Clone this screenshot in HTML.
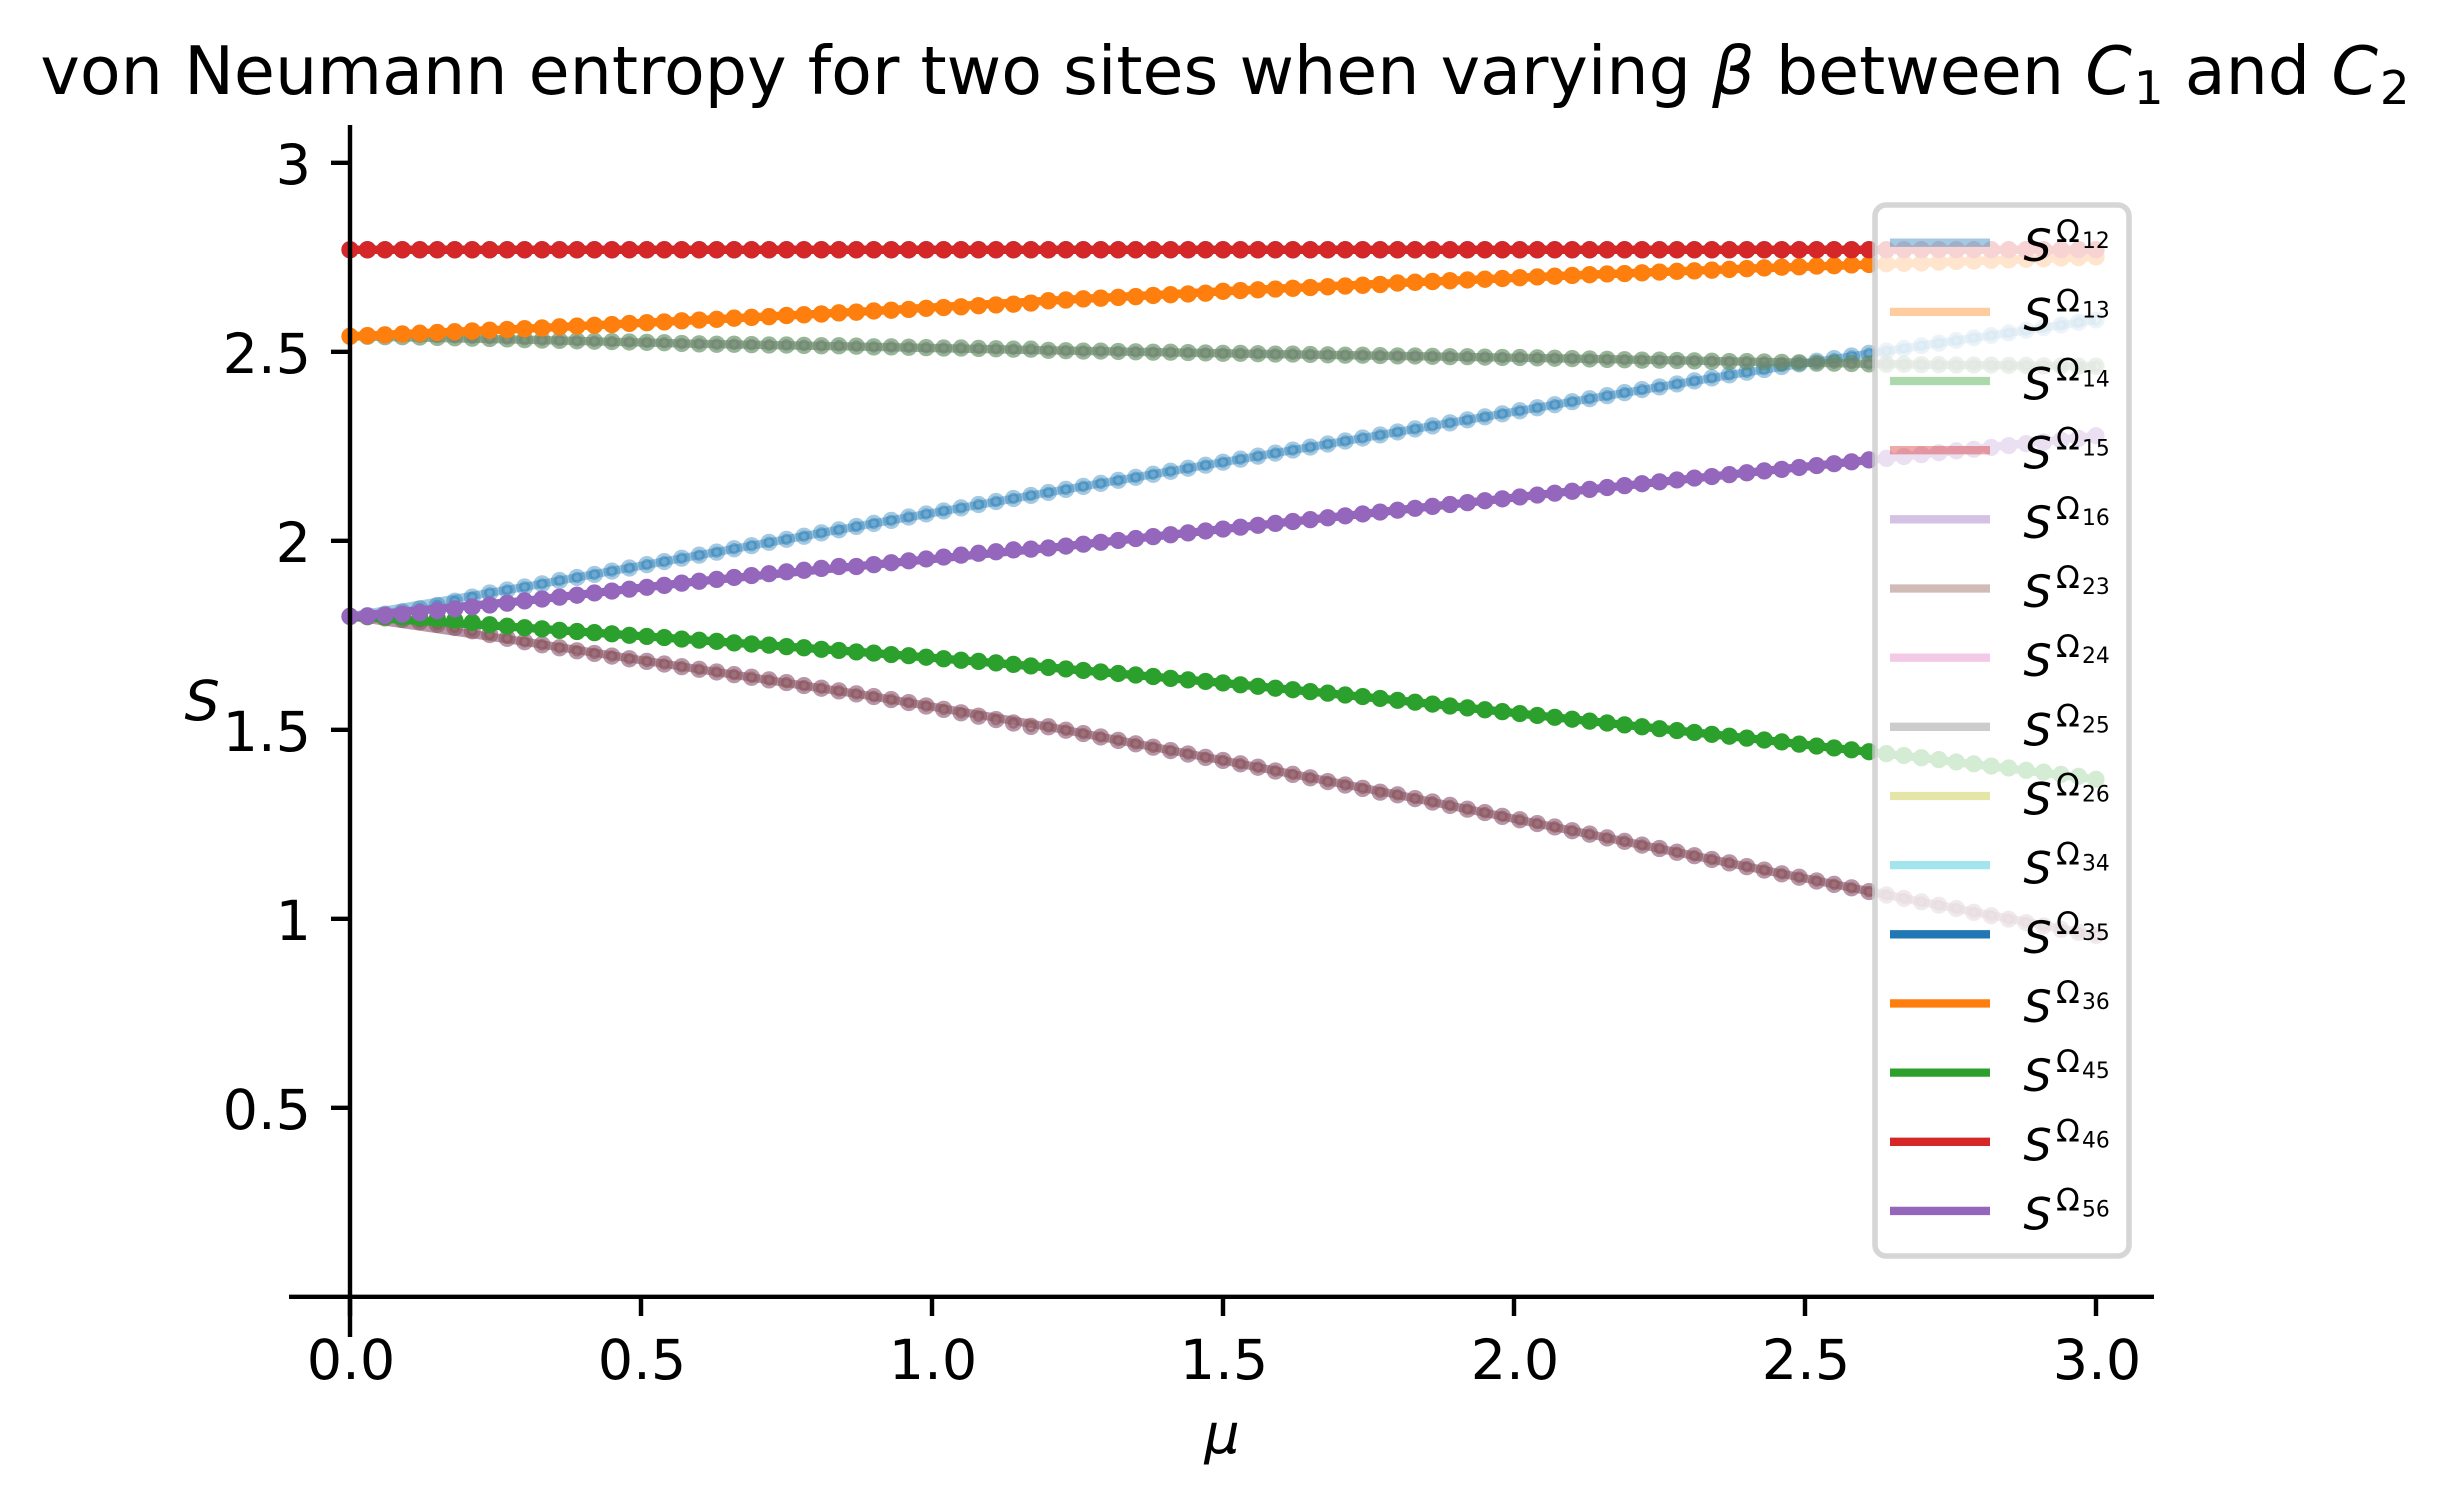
<!DOCTYPE html>
<html lang="en">
<head>
<meta charset="utf-8">
<title>von Neumann entropy chart</title>
<style>
html,body{margin:0;padding:0;background:#fff;}
svg{display:block;}
text{font-family:"DejaVu Sans","Liberation Sans",sans-serif;fill:#000;}
</style>
</head>
<body>
<svg id="chart" xmlns="http://www.w3.org/2000/svg" width="2444" height="1506" viewBox="0 0 2444 1506">
<rect x="0" y="0" width="2444" height="1506" fill="#fff"/>
<g id="marks"></g>
<g id="axes"></g>
<g id="legend"></g>
<text x="1225" y="94" text-anchor="middle" font-size="66.67">von Neumann entropy for two sites when varying <tspan font-style="italic">β</tspan> between <tspan font-style="italic">C</tspan><tspan font-size="46.7" dy="10" dx="2">1</tspan><tspan dy="-10"> and </tspan><tspan font-style="italic">C</tspan><tspan font-size="46.7" dy="10" dx="2">2</tspan></text>
<text x="1222" y="1453" text-anchor="middle" font-size="55.6" font-style="italic">μ</text>
<text x="184.5" y="720" font-size="55.6" font-style="italic">S</text>
</svg>
<script>
const muStep = 0.03;
const muCount = 101;
const xTickValues = [0, 0.5, 1, 1.5, 2, 2.5, 3];
const xTickLabels = ["0.0", "0.5", "1.0", "1.5", "2.0", "2.5", "3.0"];
const yTickValues = [0.5, 1, 1.5, 2, 2.5, 3];
const yTickLabels = ["0.5", "1", "1.5", "2", "2.5", "3"];
const seriesSites = ["12", "13", "14", "15", "16", "23", "24", "25", "26", "34", "35", "36", "45", "46", "56"];

const entropyRising = [
1.800,1.802,1.806,1.812,1.820,1.829,1.840,1.851,1.862,1.870,
1.878,1.886,1.895,1.903,1.911,1.920,1.928,1.937,1.945,1.954,
1.962,1.970,1.979,1.987,1.996,2.004,2.012,2.021,2.029,2.038,
2.046,2.054,2.063,2.071,2.079,2.087,2.096,2.104,2.112,2.120,
2.128,2.136,2.144,2.152,2.160,2.168,2.176,2.184,2.192,2.200,
2.208,2.216,2.224,2.232,2.240,2.248,2.256,2.264,2.272,2.280,
2.288,2.296,2.304,2.312,2.320,2.328,2.336,2.344,2.352,2.360,
2.368,2.376,2.384,2.392,2.400,2.407,2.415,2.423,2.431,2.439,
2.446,2.453,2.461,2.468,2.475,2.482,2.489,2.496,2.502,2.509,
2.516,2.523,2.530,2.537,2.543,2.550,2.557,2.564,2.571,2.578,2.584];

const entropyPurple = [
1.800,1.801,1.803,1.806,1.810,1.815,1.820,1.825,1.830,1.835,
1.841,1.846,1.851,1.856,1.862,1.867,1.872,1.877,1.882,1.888,
1.893,1.898,1.903,1.908,1.913,1.918,1.922,1.927,1.932,1.932,
1.937,1.942,1.947,1.952,1.957,1.962,1.967,1.971,1.976,1.978,
1.981,1.986,1.991,1.996,2.001,2.006,2.011,2.016,2.021,2.026,
2.031,2.036,2.041,2.046,2.051,2.056,2.061,2.066,2.071,2.076,
2.081,2.086,2.091,2.096,2.101,2.106,2.111,2.116,2.121,2.126,
2.131,2.136,2.141,2.146,2.151,2.156,2.161,2.166,2.170,2.175,
2.180,2.185,2.189,2.194,2.199,2.204,2.209,2.214,2.218,2.223,
2.228,2.233,2.238,2.242,2.247,2.252,2.257,2.261,2.266,2.271,2.278];

const entropyGreen = [
1.800,1.800,1.799,1.798,1.796,1.794,1.790,1.784,1.778,1.774,
1.770,1.767,1.763,1.760,1.757,1.754,1.750,1.747,1.744,1.740,
1.737,1.734,1.730,1.727,1.724,1.720,1.717,1.713,1.710,1.706,
1.703,1.699,1.696,1.692,1.688,1.684,1.681,1.677,1.673,1.669,
1.665,1.661,1.657,1.653,1.649,1.645,1.641,1.636,1.632,1.628,
1.624,1.619,1.615,1.610,1.606,1.601,1.597,1.592,1.588,1.583,
1.578,1.573,1.568,1.563,1.558,1.553,1.548,1.543,1.538,1.533,
1.528,1.523,1.518,1.513,1.508,1.503,1.498,1.493,1.488,1.483,
1.478,1.473,1.468,1.462,1.457,1.452,1.447,1.442,1.437,1.432,
1.426,1.421,1.415,1.410,1.404,1.399,1.393,1.388,1.382,1.377,1.369];

const entropyMauve = [
1.800,1.799,1.796,1.792,1.786,1.779,1.771,1.762,1.752,1.742,
1.733,1.725,1.717,1.709,1.702,1.695,1.688,1.681,1.674,1.667,
1.660,1.653,1.646,1.639,1.632,1.625,1.617,1.610,1.603,1.595,
1.588,1.580,1.572,1.563,1.554,1.545,1.536,1.527,1.518,1.509,
1.508,1.499,1.490,1.481,1.472,1.463,1.454,1.445,1.436,1.427,
1.419,1.410,1.401,1.391,1.382,1.373,1.363,1.354,1.345,1.335,
1.328,1.318,1.309,1.300,1.290,1.281,1.271,1.262,1.252,1.243,
1.233,1.224,1.214,1.205,1.195,1.186,1.176,1.167,1.157,1.148,
1.138,1.129,1.119,1.110,1.100,1.091,1.082,1.072,1.063,1.054,
1.045,1.036,1.027,1.017,1.008,0.999,0.990,0.981,0.972,0.964,0.956];

const entropyGrayGreen = [
2.541,2.541,2.540,2.540,2.539,2.538,2.537,2.536,2.535,2.534,
2.532,2.531,2.530,2.529,2.528,2.527,2.526,2.525,2.524,2.522,
2.521,2.520,2.520,2.519,2.518,2.518,2.517,2.516,2.516,2.515,
2.513,2.513,2.512,2.511,2.510,2.510,2.509,2.508,2.507,2.507,
2.504,2.503,2.502,2.502,2.501,2.500,2.499,2.499,2.498,2.497,
2.496,2.496,2.495,2.494,2.494,2.493,2.492,2.491,2.491,2.490,
2.489,2.489,2.488,2.487,2.487,2.486,2.485,2.485,2.484,2.483,
2.482,2.481,2.480,2.479,2.478,2.478,2.477,2.476,2.475,2.474,
2.474,2.473,2.472,2.471,2.470,2.470,2.469,2.468,2.467,2.467,
2.466,2.466,2.465,2.465,2.465,2.464,2.464,2.463,2.463,2.462,2.462];

const entropyOrange = [
2.541,2.543,2.545,2.547,2.549,2.551,2.553,2.555,2.557,2.559,
2.561,2.563,2.566,2.568,2.570,2.572,2.575,2.577,2.579,2.582,
2.584,2.586,2.589,2.591,2.593,2.596,2.598,2.600,2.603,2.605,
2.608,2.610,2.612,2.615,2.617,2.619,2.622,2.624,2.626,2.629,
2.635,2.637,2.640,2.642,2.644,2.646,2.649,2.651,2.653,2.655,
2.660,2.662,2.664,2.666,2.668,2.670,2.672,2.674,2.676,2.678,
2.682,2.684,2.686,2.688,2.690,2.692,2.694,2.696,2.698,2.700,
2.702,2.704,2.706,2.707,2.709,2.711,2.713,2.714,2.716,2.718,
2.720,2.722,2.724,2.725,2.727,2.728,2.730,2.731,2.733,2.734,
2.735,2.737,2.739,2.740,2.742,2.743,2.745,2.746,2.748,2.749,2.751];

const entropyRed = [
2.770,2.770,2.770,2.770,2.770,2.770,2.770,2.770,2.770,2.770,
2.770,2.770,2.770,2.770,2.770,2.770,2.770,2.770,2.770,2.770,
2.770,2.770,2.770,2.770,2.770,2.770,2.770,2.770,2.770,2.770,
2.770,2.770,2.770,2.770,2.770,2.770,2.770,2.770,2.770,2.770,
2.770,2.770,2.770,2.770,2.770,2.770,2.770,2.770,2.770,2.770,
2.770,2.770,2.770,2.770,2.770,2.770,2.770,2.770,2.770,2.770,
2.770,2.770,2.770,2.770,2.770,2.770,2.770,2.770,2.770,2.770,
2.770,2.770,2.770,2.770,2.770,2.770,2.770,2.770,2.770,2.770,
2.770,2.770,2.770,2.770,2.770,2.770,2.770,2.770,2.770,2.770,
2.770,2.770,2.770,2.770,2.770,2.770,2.770,2.770,2.770,2.770,2.770];

const seriesValues = [
  entropyRising, entropyOrange, entropyGrayGreen, entropyRed, entropyMauve,
  entropyMauve, entropyRed, entropyGrayGreen, entropyOrange, entropyRed,
  entropyRed, entropyOrange, entropyGreen, entropyRed, entropyPurple
];

const palette = ["#1f77b4","#ff7f0e","#2ca02c","#d62728","#9467bd","#8c564b","#e377c2","#7f7f7f","#bcbd22","#17becf"];
const NS = "http://www.w3.org/2000/svg";
const xAxis = function (v) { return 350 + 582 * v; };
const yAxis = function (v) { return 1296.8 - 378 * v; };

function make(tag, attrs, parent) {
  const el = document.createElementNS(NS, tag);
  for (const k in attrs) el.setAttribute(k, attrs[k]);
  parent.appendChild(el);
  return el;
}

const marksLayer = document.getElementById("marks");
seriesValues.forEach(function (vals, i) {
  const color = palette[i % 10];
  const alpha = i < 10 ? 0.4 : 1;
  const group = make("g", {}, marksLayer);
  
  
  let pts = [];
  for (let k = 0; k < vals.length; k += 10) {
    pts.push(xAxis(k * muStep).toFixed(2) + "," + yAxis(vals[k]).toFixed(2));
  }
  const line = make("polyline", {points: pts.join(" "), fill: "none", stroke: color, "stroke-width": 8.33, "stroke-opacity": alpha, "stroke-linejoin": "round"}, group);
  
  
  vals.forEach(function (v, k) {
    const dot = make("circle", {cx: xAxis(k * muStep).toFixed(2), cy: yAxis(v).toFixed(2), r: 5.7, fill: color, "fill-opacity": alpha, stroke: color, "stroke-opacity": alpha, "stroke-width": 5.8}, group);
    
    
  });
});

const axesLayer = document.getElementById("axes");
const leftSpine = make("line", {x1: 350, y1: 125, x2: 350, y2: 1337, stroke: "#000", "stroke-width": 4.44}, axesLayer);


const bottomSpine = make("line", {x1: 289, y1: 1296.8, x2: 2154, y2: 1296.8, stroke: "#000", "stroke-width": 4.44}, axesLayer);



xTickValues.forEach(function (v, i) {
  const px = xAxis(v);
  const tick = make("line", {x1: px, y1: 1296.8, x2: px, y2: 1316, stroke: "#000", "stroke-width": 4.44}, axesLayer);
  
  
  const label = make("text", {x: px + 1, y: 1379, "text-anchor": "middle", "font-size": 55.6}, axesLayer);
  label.textContent = xTickLabels[i];
  
  
});
yTickValues.forEach(function (v, i) {
  const py = yAxis(v);
  const tick = make("line", {x1: 331, y1: py, x2: 350, y2: py, stroke: "#000", "stroke-width": 4.44}, axesLayer);
  
  
  const label = make("text", {x: 311, y: py + 21, "text-anchor": "end", "font-size": 55.6}, axesLayer);
  label.textContent = yTickLabels[i];
  
  
});

const legendLayer = document.getElementById("legend");
const legendBox = make("rect", {x: 1875, y: 205, width: 254, height: 1051, rx: 11, ry: 11, fill: "#fff", "fill-opacity": 0.8, stroke: "#ccc", "stroke-opacity": 0.8, "stroke-width": 5.56}, legendLayer);


seriesSites.forEach(function (site, i) {
  const cy = 242.7 + 69.16 * i;
  const entry = make("g", {}, legendLayer);
  
  
  const handle = make("line", {x1: 1890, y1: cy, x2: 1990, y2: cy, stroke: palette[i % 10], "stroke-width": 8.33, "stroke-opacity": i < 10 ? 0.4 : 1}, entry);
  
  
  const label = make("text", {"font-size": 44.4, y: cy + 18.5}, entry);
  
  
  const s = make("tspan", {x: 2023.5, y: cy + 18.5, "font-style": "italic"}, label);
  s.textContent = "S";
  const omega = make("tspan", {x: 2056, y: cy - 0.5, "font-size": 31.1}, label);
  omega.textContent = "Ω";
  const sub = make("tspan", {x: 2082, y: cy + 5.5, "font-size": 21.8}, label);
  sub.textContent = site;
});
</script>
</body>
</html>
